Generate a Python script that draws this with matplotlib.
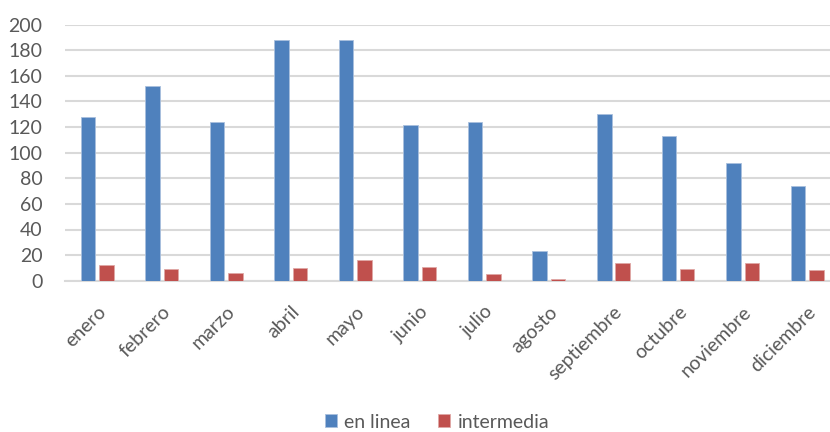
import matplotlib
matplotlib.use("Agg")
import matplotlib.pyplot as plt
import numpy as np

months = ["enero", "febrero", "marzo", "abril", "mayo", "junio", "julio",
          "agosto", "septiembre", "octubre", "noviembre", "diciembre"]
en_linea = [128, 152, 124, 188, 188, 122, 124, 23, 130, 113, 92, 74]
intermedia = [12, 9, 6, 10, 16, 11, 5, 1, 14, 9, 14, 8]
y_ticks = [0, 20, 40, 60, 80, 100, 120, 140, 160, 180, 200]

plt.rcParams['font.family'] = ['Lato', 'DejaVu Sans']
txt = '#595959'
fs = 14

fig = plt.figure(figsize=(8.3, 4.32), dpi=100)
ax = fig.add_axes([64.8/830, 1-280.7/432, 774.6/830, 256/432])

x = np.arange(len(months))
w = 0.225
gap = 0.06
ax.bar(x - (w+gap)/2, en_linea, w, color='#4F81BD', edgecolor='#A9C0DE', linewidth=0.6, label='en linea', zorder=3)
ax.bar(x + (w+gap)/2, intermedia, w, color='#C0504D', edgecolor='#E0A8A6', linewidth=0.6, label='intermedia', zorder=3)

ax.set_xlim(-0.5, len(months)-0.5)
ax.set_ylim(0, 200)
ax.set_yticks(y_ticks)
ax.yaxis.grid(True, color='#D9D9D9', linewidth=1.5, zorder=0)
for s in ['top', 'right', 'left']:
    ax.spines[s].set_visible(False)
ax.spines['bottom'].set_color('#D9D9D9')
ax.spines['bottom'].set_linewidth(1.5)
ax.tick_params(axis='both', length=0, labelsize=fs, colors=txt)
ax.tick_params(axis='y', pad=16)
ax.set_xticks(x)
ax.set_xticklabels(months, rotation=45, ha='right', va='top', rotation_mode='anchor')
ax.tick_params(axis='x', pad=16)

fig.legend(loc='center', bbox_to_anchor=(437/830, 1-422/432), ncol=2, frameon=False,
           fontsize=fs, labelcolor=txt, handlelength=0.6, handleheight=0.6,
           handletextpad=0.4, columnspacing=1.4)

fig.savefig('out.png', dpi=100)
